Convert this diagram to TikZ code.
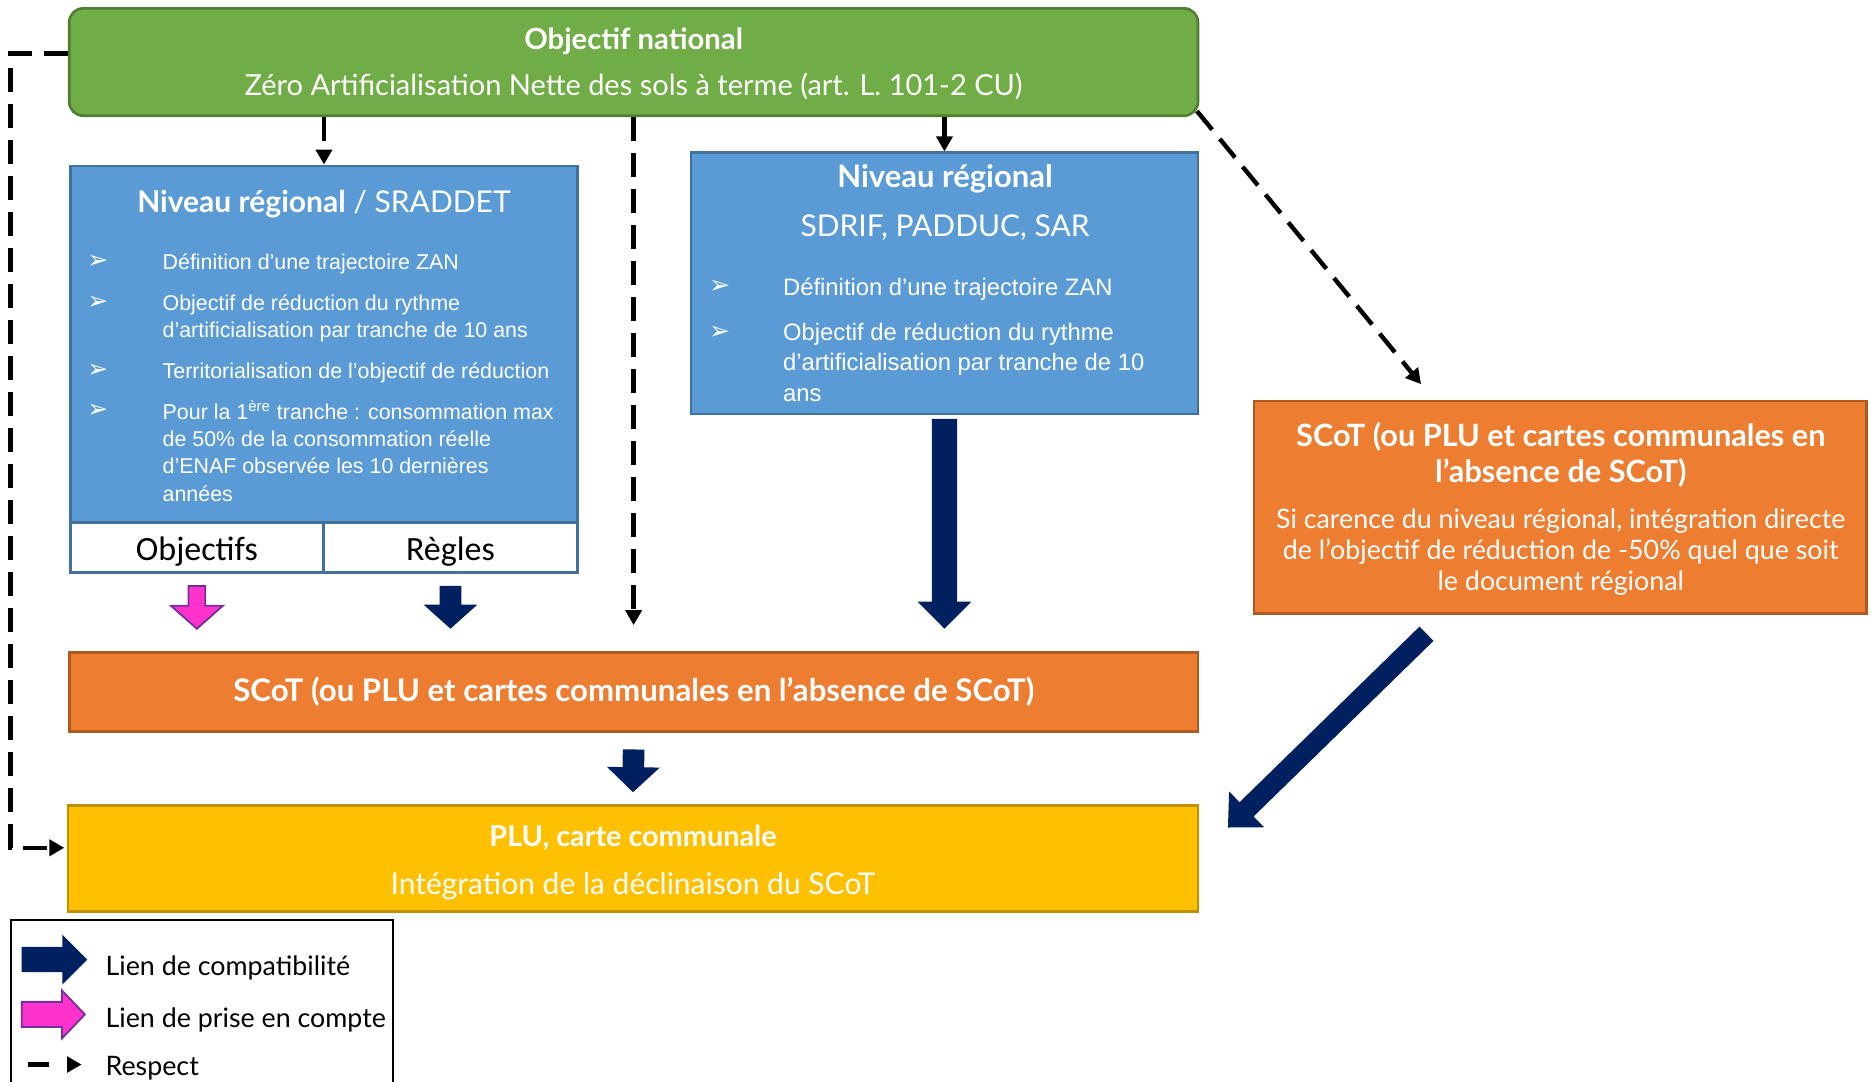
\documentclass[tikz,border=0pt]{standalone}
\usepackage{fontspec}
\setmainfont{Lato}
\newfontfamily\arialf{Liberation Sans}
\newfontfamily\calib{Carlito}
\newfontfamily\djv{DejaVu Sans}
\usetikzlibrary{arrows.meta,calc}
\newlength\px \setlength\px{0.5966pt}
\definecolor{grn}{HTML}{70AD47}
\definecolor{grnD}{HTML}{507E32}
\definecolor{blu}{HTML}{5B9BD5}
\definecolor{bluD}{HTML}{41719C}
\definecolor{org}{HTML}{ED7D31}
\definecolor{orgD}{HTML}{AE5A21}
\definecolor{ylw}{HTML}{FFC000}
\definecolor{ylwD}{HTML}{BF9000}
\definecolor{navyC}{HTML}{002060}
\definecolor{pinkC}{HTML}{FF33CC}
\definecolor{purpC}{HTML}{7030A0}
% #1 style, #2 start, #3 tip, #4 half shaft, #5 half head, #6 head length
\newcommand\blockarrow[6]{%
  \coordinate (bah) at ($(#3)!#6!(#2)$);
  \path[#1] ($(#2)!#4!90:(#3)$) -- ($(bah)!#4!-90:(#2)$) -- ($(bah)!#5!-90:(#2)$) -- (#3)
    -- ($(bah)!#5!90:(#2)$) -- ($(bah)!#4!90:(#2)$) -- ($(#2)!#4!-90:(#3)$) -- cycle;}
\begin{document}
\begin{tikzpicture}[x=\px,y=-\px,
  bx/.style={rectangle, line width=1.3pt, inner sep=0pt, text=white},
  grnbox/.style={bx, fill=grn, draw=grnD, rounded corners=7pt},
  bluebox/.style={bx, fill=blu, draw=bluD},
  orgbox/.style={bx, fill=org, draw=orgD},
  ylwbox/.style={bx, fill=ylw, draw=ylwD},
  subbox/.style={rectangle, line width=1.3pt, draw=bluD, fill=white, inner sep=0pt, text=black,
    font=\calib\fontsize{17}{18}\selectfont},
  resp/.style={draw=black, line width=2.2pt, dash pattern=on 12pt off 6pt,
    -{Triangle[length=7.5pt,width=8pt]}},
  navyA/.style={fill=navyC},
  pinkA/.style={fill=pinkC, draw=purpC, line width=0.9pt},
  wt/.style={text=white, inner sep=0pt, anchor=mid},
  bul/.style={text=white, inner sep=0pt, anchor=mid, font=\djv\fontsize{12.5}{14}\selectfont},
  ltxt/.style={text=white, inner sep=0pt, anchor=mid west, font=\arialf\fontsize{10.7}{13.7}\selectfont},
  rtxt/.style={text=white, inner sep=0pt, anchor=mid west, font=\arialf\fontsize{11.9}{15.2}\selectfont},
  lgt/.style={text=black, inner sep=0pt, anchor=mid west, font=\fontsize{13.4}{15}\selectfont}]
\useasboundingbox[fill=white] (0,0) rectangle (1568,906);

% boxes
\node[grnbox, minimum width=946*\px, minimum height=90*\px] (green) at (531,52) {};
\node[bluebox, minimum width=425*\px, minimum height=299*\px] (lblue) at (271.5,288.5) {};
\node[subbox, minimum width=212*\px, minimum height=42*\px] (objf) at (165,459) {\raisebox{-1.8pt}[\height][\depth]{Objectifs}};
\node[subbox, minimum width=213*\px, minimum height=42*\px] (regles) at (377.5,459) {\raisebox{-1.8pt}[\height][\depth]{Règles}};
\node[bluebox, minimum width=425*\px, minimum height=219*\px] (rblue) at (791.5,237.5) {};
\node[orgbox, minimum width=513*\px, minimum height=178*\px] (rorange) at (1307.5,425) {};
\node[orgbox, minimum width=946*\px, minimum height=66*\px,
  font=\bfseries\fontsize{15.6}{17}\selectfont] (morange) at (531,580)
  {SCoT (ou PLU et cartes communales en l’absence de SCoT)};
\node[ylwbox, minimum width=947*\px, minimum height=89*\px] (yellow) at (530.5,719.5) {};
\node[draw=black, line width=1pt, inner sep=0pt, minimum width=320*\px, minimum height=150*\px] (legend) at (169,846) {};

% texts: green
\node[wt, font=\bfseries\fontsize{14.6}{16}\selectfont] (gt1) at (531,37) {Objectif national};
\node[wt, font=\fontsize{14.5}{16}\selectfont] (gt2) at (531,76) {Zéro Artificialisation Nette des sols à terme (art. L. 101-2 CU)};

% left blue
\node[wt, font=\fontsize{15}{17}\selectfont] (lbt) at (271.5,174) {{\bfseries Niveau régional} / SRADDET};
\node[bul] (lb1) at (82,221) {➢};
\node[ltxt] (lx1) at (136,222) {Définition d’une trajectoire ZAN};
\node[bul] (lb2) at (82,255) {➢};
\node[ltxt] (lx2) at (136,256) {\begin{tabular}[t]{@{}l@{}}Objectif de réduction du rythme\\d’artificialisation par tranche de 10 ans\end{tabular}};
\node[bul] (lb3) at (82,312) {➢};
\node[ltxt] (lx3) at (136,313) {Territorialisation de l’objectif de réduction};
\node[bul] (lb4) at (82,346) {➢};
\node[ltxt] (lx4) at (136,347) {\begin{tabular}[t]{@{}l@{}}Pour la 1\textsuperscript{ère} tranche : consommation max\\de 50\% de la consommation réelle\\d’ENAF observée les 10 dernières\\années\end{tabular}};

% right blue
\node[wt, font=\bfseries\fontsize{15.5}{17}\selectfont] (rbt1) at (792,153) {Niveau régional};
\node[wt, font=\fontsize{15}{17}\selectfont] (rbt2) at (792,194) {SDRIF, PADDUC, SAR};
\node[bul] (rb1) at (603,242) {➢};
\node[rtxt] (rx1) at (656,243) {Définition d’une trajectoire ZAN};
\node[bul] (rb2) at (603,280) {➢};
\node[rtxt] (rx2) at (656,281) {\begin{tabular}[t]{@{}l@{}}Objectif de réduction du rythme\\d’artificialisation par tranche de 10\\ans\end{tabular}};

% right orange
\node[wt, font=\bfseries\fontsize{15.35}{17}\selectfont] (ro1) at (1308,370) {SCoT (ou PLU et cartes communales en};
\node[wt, font=\bfseries\fontsize{15.35}{17}\selectfont] (ro2) at (1308,400) {l’absence de SCoT)};
\node[wt, font=\fontsize{13.4}{15}\selectfont] (ro3) at (1308,439) {Si carence du niveau régional, intégration directe};
\node[wt, font=\fontsize{13.4}{15}\selectfont] (ro4) at (1308,465) {de l’objectif de réduction de -50\% quel que soit};
\node[wt, font=\fontsize{13.4}{15}\selectfont] (ro5) at (1308,491) {le document régional};

% yellow
\node[wt, font=\bfseries\fontsize{14.4}{16}\selectfont] (y1) at (530.5,705) {PLU, carte communale};
\node[wt, font=\fontsize{15}{17}\selectfont] (y2) at (530.5,745) {Intégration de la déclinaison du SCoT};

% dashed "respect" connectors
\draw[resp] (lblue.north |- green.south) -- (lblue.north);
\draw[resp] (green.south) -- ($(morange.north)+(0,-22)$);
\draw[resp] (rblue.north |- green.south) -- (rblue.north);
\draw[resp] ($(green.south east)+(-2,-5)$) -- ($(rorange.north west)+(141,-13)$);
\draw[resp] ($(green.west)+(0,-7)$) -- ++(-48,0) |- ($(yellow.west)+(-2,-9)$);

% block arrows
\coordinate (pa1) at ($(objf.south)+(0,10)$);
\coordinate (pa2) at ($(objf.south |- morange.north)+(0,-19)$);
\blockarrow{pinkA}{pa1}{pa2}{4.2pt}{13pt}{11.5pt}
\coordinate (na1) at ($(regles.south)+(0,10)$);
\coordinate (na2) at ($(regles.south |- morange.north)+(0,-19)$);
\blockarrow{navyA}{na1}{na2}{5.4pt}{13.4pt}{12pt}
\coordinate (nb1) at ($(rblue.south)+(0,3)$);
\coordinate (nb2) at ($(rblue.south |- morange.north)+(0,-19)$);
\blockarrow{navyA}{nb1}{nb2}{6.3pt}{13.4pt}{13.5pt}
\coordinate (nc1) at ($(morange.south)+(0,14)$);
\coordinate (nc2) at ($(yellow.north)+(0,-10)$);
\blockarrow{navyA}{nc1}{nc2}{5.4pt}{13.2pt}{12.5pt}
\coordinate (nd1) at ($(rorange.south)+(-112,16)$);
\coordinate (nd2) at ($(yellow.east)+(24,-26)$);
\blockarrow{navyA}{nd1}{nd2}{5pt}{12.5pt}{13pt}

% legend
\coordinate (lg1a) at ($(legend.north west)+(10,34)$);
\coordinate (lg1b) at ($(lg1a)+(55,0)$);
\blockarrow{navyA}{lg1a}{lg1b}{6.3pt}{12.5pt}{12.5pt}
\coordinate (lg2a) at ($(legend.north west)+(10,80)$);
\coordinate (lg2b) at ($(lg2a)+(53,0)$);
\blockarrow{pinkA}{lg2a}{lg2b}{6.3pt}{12pt}{11.5pt}
\draw[line width=2.2pt] ($(legend.north west)+(15,122)$) -- ++(18,0);
\fill ($(legend.north west)+(48,115)$) -- ++(12,7) -- ++(-12,7) -- cycle;
\node[lgt] (lt1) at ($(legend.north west)+(80,43)$) {Lien de compatibilité};
\node[lgt] (lt2) at ($(legend.north west)+(80,87)$) {Lien de prise en compte};
\node[lgt] (lt3) at ($(legend.north west)+(80,127)$) {Respect};
\end{tikzpicture}
\end{document}
